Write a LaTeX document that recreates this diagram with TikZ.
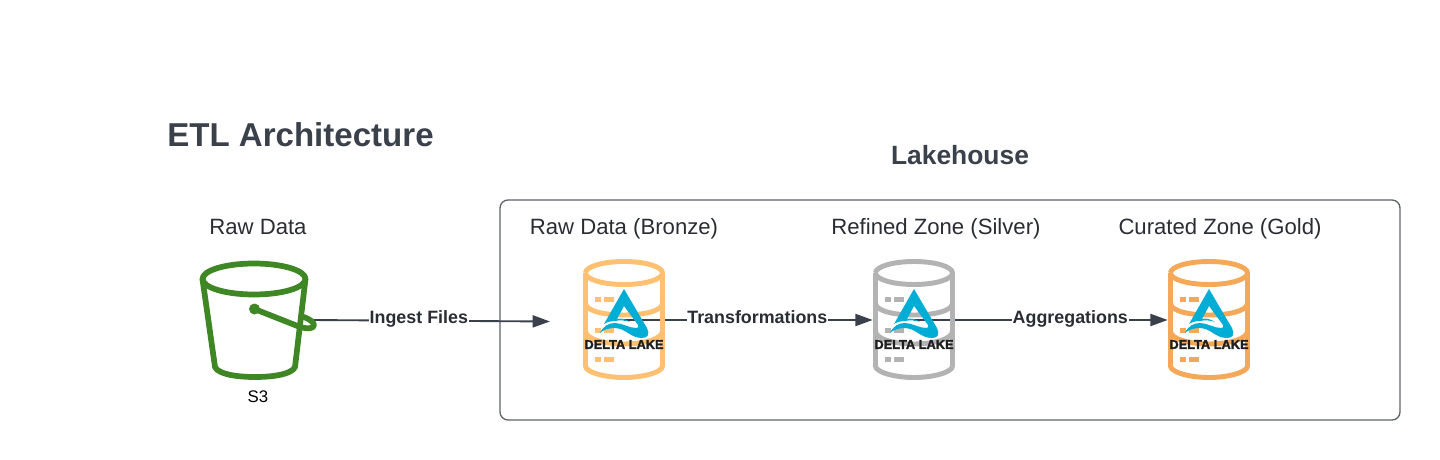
\documentclass[tikz,border=0pt]{standalone}
\usepackage{fontspec}
\setmainfont{Liberation Sans}
\newfontfamily\deltafont[FakeBold=2.2]{Liberation Sans Bold}
\usetikzlibrary{arrows.meta}
\definecolor{ink}{HTML}{3A414A}
\definecolor{frame}{HTML}{5F646B}
\definecolor{bucketgreen}{HTML}{3F8624}
\definecolor{bronzec}{HTML}{FFC071}
\definecolor{silverc}{HTML}{B3B3B3}
\definecolor{goldc}{HTML}{F5A857}
\definecolor{deltablue}{HTML}{00ADD4}
\tikzset{
  x=0.75pt,y=-0.75pt,
  heading/.style={font=\fontsize{24.8pt}{28pt}\selectfont\bfseries,text=ink,inner sep=0},
  subheading/.style={font=\fontsize{19.8pt}{23pt}\selectfont\bfseries,text=ink,inner sep=0},
  zonelabel/.style={font=\fontsize{16.6pt}{19pt}\selectfont,text=ink!70!black,inner sep=0,anchor=base},
  flowlabel/.style={font=\fontsize{13.4pt}{16pt}\selectfont\bfseries,text=ink!70!black,fill=white,inner xsep=0.5pt,inner ysep=2pt},
  flow/.style={draw=ink,line width=1.4pt,-{Triangle[length=13pt,width=9pt]}},
  anchorbox/.style={minimum width=61.5pt,minimum height=90pt,inner sep=0},
  pics/database/.style={code={
    \begin{scope}[draw=#1,line width=3.7pt,fill=none]
      \draw (-38.5,-47) arc[start angle=180,end angle=-180,x radius=38.5,y radius=11.5];
      \draw (-38.5,-47) -- (-38.5,46) .. controls (-38.5,52) and (-20,57.5) .. (0,57.5) .. controls (20,57.5) and (38.5,52) .. (38.5,46) -- (38.5,-47);
      \draw (-38.5,-17) .. controls (-38.5,-9) and (-20,-5) .. (0,-5) .. controls (20,-5) and (38.5,-9) .. (38.5,-17);
      \draw (-38.5,11) .. controls (-38.5,19) and (-20,24) .. (0,24) .. controls (20,24) and (38.5,19) .. (38.5,11);
    \end{scope}
    \foreach \yy in {-21,10,39}{
      \fill[#1] (-29,\yy-2.5) rectangle (-23,\yy+2.5);
      \fill[#1] (-20,\yy-2.5) rectangle (-10,\yy+2.5);
    }
    \fill[deltablue]
      (0,-31) -- (23,8) .. controls (26,14) and (24,18) .. (18,18)
      .. controls (6,18) and (2,8) .. (-10,8) .. controls (-15,8) and (-21,10) .. (-24,13)
      .. controls (-21,6) and (-15,3) .. (-9,3) .. controls (-2,3) and (5,8) .. (12,8)
      .. controls (14,8) and (15,7) .. (14,5) -- (0,-14) -- (-7,-1)
      .. controls (-3,-2) and (2,-1) .. (6,2) .. controls (1,0) and (-5,0) .. (-9,1)
      .. controls (-13,1) and (-17,2) .. (-20,4) -- cycle;
    \node[font=\deltafont\fontsize{9.6pt}{11pt}\selectfont,text=black!88,inner sep=0] at (0,24.5) {DELTA LAKE};
  }}
}
\begin{document}
\begin{tikzpicture}
\useasboundingbox (0,0) rectangle (1440,460);
\fill[white] (0,0) rectangle (1440,460);

\node[heading,anchor=west] (title) at (167,135) {ETL Architecture};
\node[subheading] (lake) at (960,155.5) {Lakehouse};
\node[draw=frame,line width=1pt,rounded corners=6pt,minimum width=675pt,minimum height=165pt,inner sep=0] (box) at (950,310) {};

\node[zonelabel] (rawlabel) at (258,234) {Raw Data};
\node[zonelabel] (bronzelabel) at (624,234) {Raw Data (Bronze)};
\node[zonelabel] (silverlabel) at (936,234) {Refined Zone (Silver)};
\node[zonelabel] (goldlabel) at (1220,234) {Curated Zone (Gold)};
\node[font=\fontsize{12.6pt}{15pt}\selectfont,text=black,inner sep=0] (s3) at (258,397) {S3};

\node[anchorbox] (bucket) at (258,320) {};
\node[anchorbox] (bronze) at (624,320) {};
\node[anchorbox] (silver) at (914,320) {};
\node[anchorbox] (gold) at (1209,320) {};
\coordinate (bucketout) at (308,320);
\coordinate (bronzein) at (550,321.5);

\draw[flow] (bucketout) -- node[flowlabel,pos=0.458,yshift=1.2pt] (ingest) {Ingest Files} (bronzein);
\draw[flow] (bronze.center) -- node[flowlabel,pos=0.536,yshift=2pt] (transform) {Transformations} (silver.west);
\draw[flow] (silver.center) -- node[flowlabel,pos=0.616,yshift=0.5pt] (aggregate) {Aggregations} (gold.west);

\begin{scope}[draw=bucketgreen,line width=4.3pt,line join=round,line cap=round]
  \draw[fill=none] (254,279) ellipse [x radius=51.5,y radius=15.5];
  \draw (202.5,279) -- (215,367) .. controls (218,374) and (236,377) .. (255,377)
        .. controls (274,377) and (292,374) .. (295,367) -- (305.5,279);
  \fill[bucketgreen] (254.5,309) circle[radius=5.5];
  \draw (254.5,309) -- (300,327) .. controls (307,329) and (314,329) .. (314,325)
        .. controls (314,322) and (309,319) .. (304,317);
\end{scope}

\pic at (bronze.center) {database=bronzec};
\pic at (silver.center) {database=silverc};
\pic at (gold.center) {database=goldc};
\end{tikzpicture}
\end{document}
